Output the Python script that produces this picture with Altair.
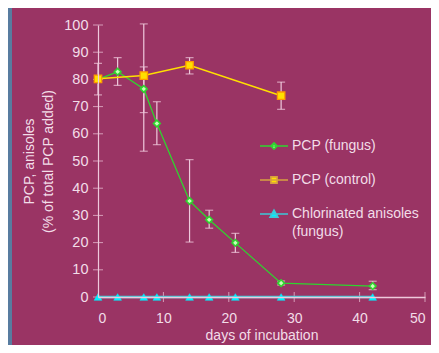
import altair as alt
import pandas as pd

# ---------------- data ----------------
fungus_days = [0, 3, 7, 9, 14, 17, 21, 28, 42]
fungus_pcp = [80.0, 82.8, 76.5, 63.8, 35.3, 28.4, 19.9, 5.1, 4.0]
fungus_lo = [74.3, 77.8, 53.6, 56.0, 20.2, 25.3, 16.4, 4.4, 2.7]
fungus_hi = [85.9, 88.0, 100.4, 71.8, 50.5, 31.9, 23.4, 5.9, 5.8]

control_days = [0, 7, 14, 28]
control_pcp = [80.2, 81.4, 85.2, 74.0]
control_err_days = [7, 14, 28]
control_lo = [67.8, 82.0, 69.0]
control_hi = [84.6, 88.0, 79.0]

anisole_days = [0, 3, 7, 9, 14, 17, 21, 28, 42]
anisole_vals = [0, 0, 0, 0, 0, 0, 0, 0, 0]

x_ticks = [0, 10, 20, 30, 40, 50]
y_ticks = [0, 10, 20, 30, 40, 50, 60, 70, 80, 90, 100]

series_names = ["PCP (fungus)", "PCP (control)", "Chlorinated anisoles (fungus)"]

# ---------------- styling ----------------
FONT = "Liberation Sans"
PANEL = "#9a3464"
OUTER = "#587ca0"
FG = "#f2dde8"
AXIS = "#efc9dc"
GREEN = "#2fd52f"
GREEN_FILL = "#c8ffb8"
YELLOW = "#ffe000"
ORANGE = "#ff9a00"
CYAN = "#00f0ff"
CYAN_LINE = "#3cc8d8"

fungus = pd.DataFrame({"day": fungus_days, "val": fungus_pcp})
control = pd.DataFrame({"day": control_days, "val": control_pcp})
anis = pd.DataFrame({"day": anisole_days, "val": anisole_vals})
errs = pd.DataFrame({
    "day": fungus_days + control_err_days,
    "lo": fungus_lo + control_lo,
    "hi": fungus_hi + control_hi,
})
xt = pd.DataFrame({"day": x_ticks[1:], "val": [0] * (len(x_ticks) - 1)})
yt = pd.DataFrame({"day": [0] * len(y_ticks), "val": y_ticks})

xs = alt.Scale(domain=[0, 50], nice=False, zero=False)
ys = alt.Scale(domain=[0, 100], nice=False, zero=False)

X_AXIS = alt.Axis(values=x_ticks, ticks=False, grid=False, domainColor=AXIS, domainWidth=1.5,
                  labelColor=FG, labelFont=FONT, labelFontSize=14, labelPadding=14,
                  title="days of incubation", titleColor=FG, titleFont=FONT, titleFontSize=14,
                  titleFontWeight="normal", titlePadding=3, zindex=1)
Y_AXIS = alt.Axis(values=y_ticks, ticks=False, grid=False, domainColor=AXIS, domainWidth=1.2,
                  labelColor=FG, labelFont=FONT, labelFontSize=14.5, labelPadding=10,
                  title=["PCP, anisoles", "(% of total PCP added)"], titleLineHeight=19,
                  titleColor=FG, titleFont=FONT, titleFontSize=14, titleFontWeight="normal",
                  titlePadding=8, zindex=1)


def X(field="day"):
    return alt.X(f"{field}:Q", scale=xs, axis=X_AXIS)


def Y(field="val"):
    return alt.Y(f"{field}:Q", scale=ys, axis=Y_AXIS)


bg = alt.Chart(alt.Data(values=[{}])).mark_rect(color=PANEL, clip=False).encode(
    x=alt.value(-86), x2=alt.value(333), y=alt.value(-17), y2=alt.value(320))

ytick_marks = alt.Chart(yt).mark_tick(orient="horizontal", size=10, thickness=1, color=AXIS).encode(
    x=X(), y=Y())
xtick_marks = alt.Chart(xt).mark_tick(orient="vertical", size=10, thickness=1, color=AXIS).encode(
    x=X(), y=Y())

err_rule = alt.Chart(errs).mark_rule(color=AXIS, strokeWidth=1.2).encode(
    x=X(), y=Y("lo"), y2="hi:Q")
err_lo = alt.Chart(errs).mark_tick(orient="horizontal", size=8, thickness=1.2, color=AXIS).encode(
    x=X(), y=Y("lo"))
err_hi = alt.Chart(errs).mark_tick(orient="horizontal", size=8, thickness=1.2, color=AXIS).encode(
    x=X(), y=Y("hi"))


def enc(ch):
    return ch.encode(x=X(), y=Y())


f_line = enc(alt.Chart(fungus).mark_line(color=GREEN, strokeWidth=1.3))
c_line = enc(alt.Chart(control).mark_line(color=YELLOW, strokeWidth=1.5))
a_line = enc(alt.Chart(anis).mark_line(color=CYAN_LINE, strokeWidth=2.5))
f_pts = enc(alt.Chart(fungus).mark_point(shape="diamond", filled=True, size=45, fill=GREEN_FILL,
                                         stroke=GREEN, strokeWidth=1.6, opacity=1))
c_pts = enc(alt.Chart(control).mark_point(shape="square", filled=True, size=55, fill=YELLOW,
                                          stroke=ORANGE, strokeWidth=1.3, opacity=1))
a_pts = enc(alt.Chart(anis).mark_point(shape="triangle-up", filled=True, size=60, fill=CYAN,
                                       stroke=CYAN, strokeWidth=0.5, opacity=1))

legend_layer = alt.Chart(fungus).transform_calculate(series="'PCP (fungus)'").transform_filter("false").mark_point(
    filled=True, opacity=1).encode(
    x=X(), y=Y(),
    fill=alt.Fill("series:N", scale=alt.Scale(domain=series_names, range=[GREEN_FILL, YELLOW, CYAN]),
                  legend=alt.Legend(orient="none", legendX=161, legendY=106, title=None,
                                    labelFont=FONT, labelFontSize=14, labelColor=FG, labelLimit=0,
                                    labelOffset=3, symbolSize=784, symbolStrokeWidth=1.6,
                                    rowPadding=12, symbolOpacity=1,
                                    labelExpr="datum.label == 'Chlorinated anisoles (fungus)' ? ['Chlorinated anisoles', '(fungus)'] : datum.label")),
    stroke=alt.Stroke("series:N", scale=alt.Scale(domain=series_names, range=[GREEN, "#d8a040", CYAN_LINE])),
    shape=alt.Shape("series:N", scale=alt.Scale(domain=series_names, range=[
        "M-1,0H1M0,-0.22L0.22,0L0,0.22L-0.22,0Z",
        "M-1,0H1M-0.22,-0.22H0.22V0.22H-0.22Z",
        "M-1,0H1M0,-0.28L0.28,0.22L-0.28,0.22Z",
    ])),
)

chart = alt.layer(
    bg, ytick_marks, xtick_marks, err_rule, err_lo, err_hi,
    a_line, f_line, c_line, a_pts, f_pts, c_pts, legend_layer
).properties(
    width=327, height=272,
    padding={"left": 90, "top": 17, "right": 6, "bottom": 48},
    autosize=alt.AutoSizeParams(type="none"),
    background=OUTER,
).configure_view(strokeWidth=0).configure(style={"guide-label": {"lineHeight": 18}})

chart.save("out.html", embed_options={"renderer": "svg", "actions": False})
